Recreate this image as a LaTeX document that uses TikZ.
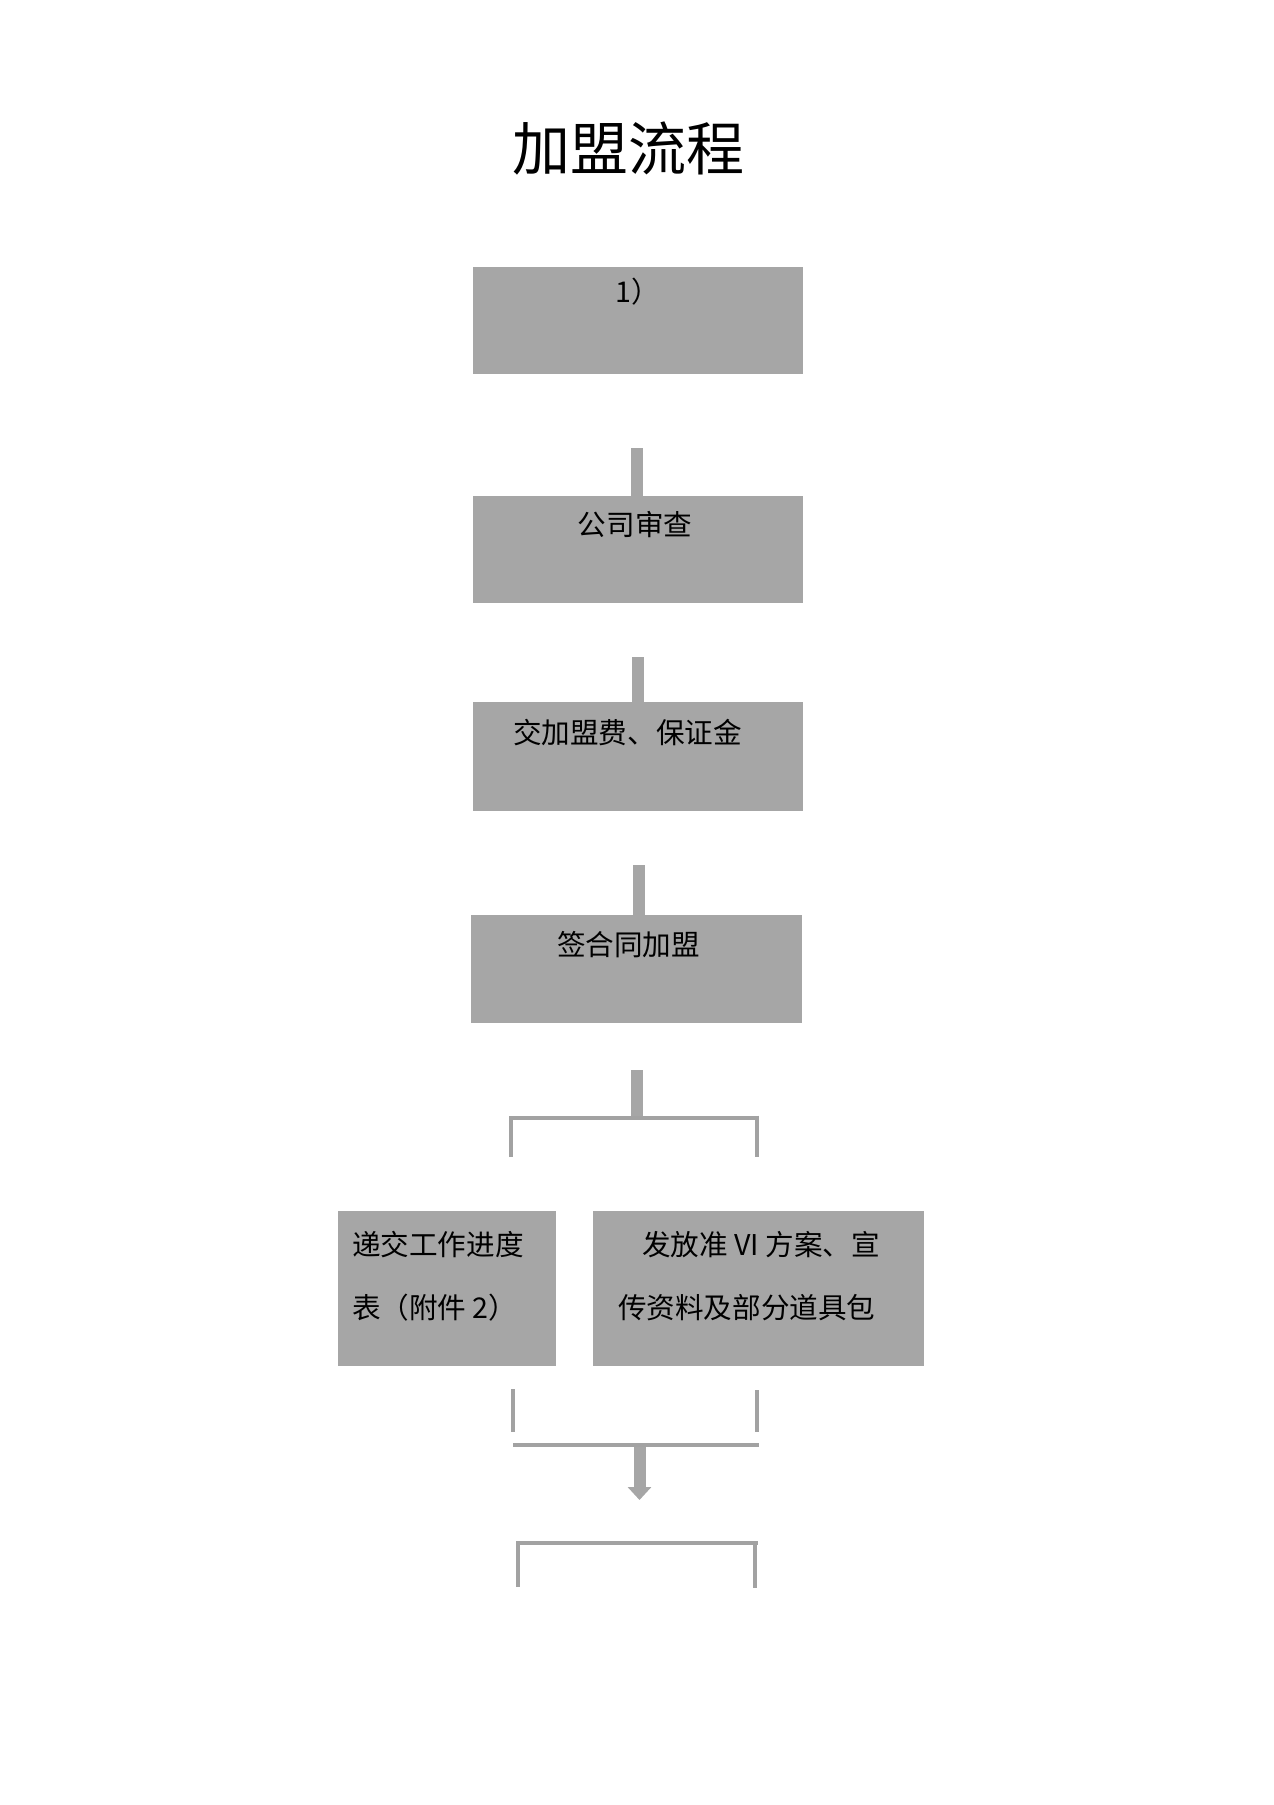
\documentclass[tikz,border=0pt]{standalone}
\usepackage{fontspec}
\usetikzlibrary{arrows.meta, positioning, backgrounds}
\newfontfamily\cjk{Noto Sans CJK SC}
\definecolor{boxgray}{HTML}{A6A6A6}
\definecolor{linegray}{HTML}{A2A2A2}

\begin{document}
\begin{tikzpicture}[x=0.5pt, y=-0.5pt]
  \tikzset{stage/.style={fill=boxgray, inner sep=0pt, minimum width=165pt, minimum height=53.5pt}};
  \tikzset{lbl/.style={inner sep=0pt, font=\cjk\fontsize{14.3pt}{17pt}\selectfont}};
  \tikzset{lbltwo/.style={inner sep=0pt, anchor=west, align=left, font=\cjk\fontsize{14.3pt}{31.5pt}\selectfont}};
  \tikzset{flow/.style={boxgray, line width=6pt, -{Triangle[width=11.5pt, length=6.5pt]}, shorten >=-8pt}};
  \tikzset{fork/.style={linegray, line width=2.3pt}};

  \useasboundingbox (0,0) rectangle (1274,1805);

  \node[inner sep=0pt, font=\cjk\fontsize{29pt}{34pt}\selectfont] (ttl) at (628,148) {加盟流程};

  % boxes
  \node[stage] (b1) at (638,320.5) {};
  \node[stage] (b2) at (638,549.5) {};
  \node[stage, minimum height=54.5pt] (b3) at (637.5,756.5) {};
  \node[stage, minimum width=165.5pt, minimum height=54pt] (b4) at (636.5,969) {};
  \node[stage, minimum width=109pt, minimum height=77.5pt] (b5) at (447,1288.5) {};
  \node[stage, minimum width=165.5pt, minimum height=77.5pt] (b6) at (758.5,1288.5) {};

  % texts
  \node[lbl] (t1) at ([yshift=-12.5pt]b1.north) {1）};
  \node[lbl] (t2) at ([xshift=-1.5pt, yshift=-14.5pt]b2.north) {公司审查};
  \node[lbl] (t3) at ([xshift=-5pt, yshift=-15.5pt]b3.north) {交加盟费、保证金};
  \node[lbl] (t4) at ([xshift=-4pt, yshift=-15pt]b4.north) {签合同加盟};
  \node[lbltwo] (t5) at ([xshift=7pt, yshift=6pt]b5.west) {递交工作进度\\表（附件 2）};
  \node[lbltwo] (t6) at ([xshift=12.5pt, yshift=6pt]b6.west) {\hspace{12pt}发放准 VI 方案、宣\\传资料及部分道具包};

  % free ends
  \coordinate (a1) at (637,448);
  \coordinate (a2) at (637.5,657);
  \coordinate (a3) at (638.5,865);
  \coordinate (a4) at (637,1070);
  \coordinate (a5) at (639.5,1447);
  \coordinate (a5e) at (639.5,1500);

  % forks
  \coordinate (f1a) at (511,1157);
  \coordinate (f1c) at (758,1118);
  \coordinate (f1d) at (757,1157);
  \coordinate (f2a) at (513,1389);
  \coordinate (f2b) at (513,1432);
  \coordinate (f2c) at (757,1390);
  \coordinate (f2d) at (757,1432);
  \coordinate (f2e) at (513,1445);
  \coordinate (f2f) at (759,1445);
  \coordinate (f3a) at (518,1587);
  \coordinate (f3c) at (758,1543);
  \coordinate (f3d) at (755,1588);
  \coordinate (f3e) at (755,1543);

  \draw[fork] (f1a) |- (f1c);
  \draw[fork] ([yshift=1.15pt]f1c -| f1d) -- (f1d);
  \draw[fork] (f2a) -- (f2b);
  \draw[fork] (f2c) -- (f2d);
  \draw[fork] (f2e) -- (f2f);
  \draw[fork] (f3a) |- (f3c);
  \draw[fork] ([yshift=-1.15pt]f3e) -- (f3d);

  \begin{scope}[on background layer]
    \draw[flow] (a1) -- (a1 |- b2.north);
    \draw[flow] (a2) -- (a2 |- b3.north);
    \draw[flow] (a3) -- (a3 |- b4.north);
    \draw[flow, -, shorten >=-1pt] (a4) -- (a4 |- f1c);
  \end{scope}
  \draw[flow, shorten >=0pt] (a5) -- (a5e);
\end{tikzpicture}
\end{document}
